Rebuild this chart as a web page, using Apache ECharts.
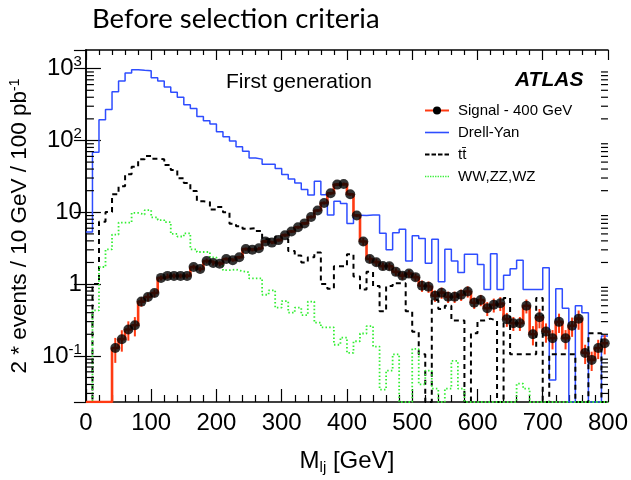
<!DOCTYPE html>
<html><head><meta charset="utf-8">
<script src="https://cdn.jsdelivr.net/npm/echarts@6/dist/echarts.min.js"></script>
<style>html,body{margin:0;padding:0;background:#fff}#c{width:631px;height:480px}</style>
</head><body><div id="c"></div><script>
// ---------- data (10 GeV bins, 0..800 GeV) ----------
const BIN_WIDTH = 10;
const X_MIN = 0, X_MAX = 800;
const Y_MIN = 0.0228, Y_MAX = 1820;

const drellYan = [5.3, 68.6, 194, 270, 477, 673, 871, 967, 950, 937,
  746, 673, 557, 468, 400, 315, 278, 215, 188, 169,
  132, 113, 98.7, 82, 70.8, 57, 55, 46.8, 46.8, 40.8,
  33.5, 29, 25.5, 20.8, 17.4, 27, 17.5, 9.2, 14.2, 13.3,
  7.0, 9.1, 9.0, 9.2, 9.2, 5.1, 3.0, 5.2, 5.8, 2.1,
  4.7, 4.3, 1.95, 4.2, 1.08, 3.05, 2.1, 1.45, 2.6, 2.6,
  1.88, 0.84, 2.65, 0.84, 1.33, 1.64, 2.15, 0.84, 0.84, 0.84,
  1.69, 0.046, 0.86, 0.46, 0, 0.50, 0.40, 0, 0, 0.19];

const ttbar = [0, 1.0, 7.4, 10.1, 17.8, 23.1, 33.9, 43, 54.7, 60.6,
  55.7, 54.7, 45.4, 38.8, 29.9, 25.6, 19.8, 14.2, 13.9, 10.9,
  11.8, 10.0, 6.9, 6.4, 5.9, 6.0, 5.5, 4.2, 4.2, 4.6,
  4.2, 2.9, 2.5, 2.0, 2.36, 2.75, 1.0, 0.86, 1.77, 1.77,
  2.6, 1.28, 0.84, 1.48, 0.94, 0.42, 0.94, 1.03, 1.03, 0.42,
  0.217, 0.105, 0, 0.6, 0.45, 0.5, 0.31, 0.31, 0, 0.206,
  0.31, 0.33, 0.31, 0, 0.64, 0.105, 0.105, 0.105, 0.105, 0.64,
  0, 0.105, 0.105, 0.105, 0.105, 0, 0, 0.206, 0.206, 0];

const diboson = [0, 0.43, 1.73, 3.05, 4.9, 7.2, 7.2, 9.8, 9.3, 10.7,
  8.5, 7.8, 7.3, 5.0, 4.6, 5.1, 3.05, 2.8, 2.8, 2.36,
  1.98, 1.56, 1.6, 1.51, 1.46, 1.2, 1.2, 0.71, 0.82, 0.47,
  0.58, 0.40, 0.47, 0.37, 0.57, 0.29, 0.25, 0.25, 0.143, 0.18,
  0.11, 0.16, 0.205, 0.26, 0.135, 0.034, 0.0625, 0.105, 0, 0,
  0.125, 0.04, 0.0625, 0.035, 0, 0.035, 0.085, 0.035, 0, 0,
  0, 0, 0, 0, 0, 0, 0.041, 0.035, 0, 0,
  0, 0, 0, 0, 0, 0, 0, 0, 0, 0];

const signal = [0, 0, 0, 0, 0.129, 0.171, 0.233, 0.267, 0.57, 0.66,
  0.75, 1.22, 1.3, 1.3, 1.3, 1.3, 1.73, 1.62, 2.1, 1.97,
  1.92, 2.24, 2.15, 2.36, 3.07, 3.0, 3.15, 3.93, 3.78, 4.1,
  4.8, 5.4, 6.2, 7.0, 8.6, 10.6, 13.5, 18.4, 24.3, 24.8,
  17.8, 9.0, 3.92, 2.24, 2.02, 1.78, 1.77, 1.48, 1.31, 1.4,
  1.25, 0.95, 0.92, 0.69, 0.76, 0.665, 0.665, 0.71, 0.79, 0.55,
  0.6, 0.46, 0.515, 0.54, 0.325, 0.285, 0.285, 0.5, 0.2, 0.346,
  0.218, 0.176, 0.298, 0.176, 0.263, 0.33, 0.11, 0.088, 0.129, 0.15];

// relative statistical uncertainty of each signal bin
const signalRelErr = [0, 0, 0, 0, 0.38, 0.33, 0.3, 0.3, 0.15, 0.13,
  0.12, 0.08, 0.08, 0.08, 0.08, 0.08, 0.08, 0.08, 0.08, 0.08,
  0.08, 0.05, 0.05, 0.05, 0.05, 0.05, 0.05, 0.05, 0.05, 0.05,
  0.05, 0.05, 0.05, 0.05, 0.05, 0.05, 0.05, 0.05, 0.05, 0.05,
  0.05, 0.05, 0.12, 0.12, 0.12, 0.12, 0.12, 0.12, 0.12, 0.12,
  0.12, 0.18, 0.18, 0.18, 0.18, 0.18, 0.18, 0.18, 0.18, 0.18,
  0.18, 0.22, 0.22, 0.22, 0.22, 0.22, 0.22, 0.22, 0.3, 0.3,
  0.3, 0.3, 0.3, 0.3, 0.3, 0.3, 0.3, 0.3, 0.3, 0.3];

const seriesNames = ['Signal - 400 GeV', 'Drell-Yan', 'tt\u0304', 'WW,ZZ,WZ'];

// ---------- styles ----------
const RED = '#ff3a12', BLUE = '#2e4dff', GREEN = '#33ee33', BLACK = '#000';
const FONT = 'Liberation Sans, Arial, sans-serif';

// step-histogram points: one point per lower bin edge + closing point
function histPoints(vals) {
  const pts = vals.map((v, i) => [i * BIN_WIDTH, v > 0 ? v : Y_MIN]);
  const last = vals[vals.length - 1];
  pts.push([vals.length * BIN_WIDTH, last > 0 ? last : Y_MIN]);
  return pts;
}
const sigPoints = [], sigErrs = [];
signal.forEach((v, i) => {
  if (v > 0) {
    const xc = i * BIN_WIDTH + BIN_WIDTH / 2;
    sigPoints.push([xc, v]);
    const e = v * signalRelErr[i];
    sigErrs.push([xc, v, Math.max(v - e, Y_MIN), v + e]);
  }
});
// minor log ticks 2..9 x 10^k inside range
const minorY = [];
for (let k = -2; k <= 3; k++) for (let m = 2; m <= 9; m++) {
  const v = m * Math.pow(10, k);
  if (v > Y_MIN && v < Y_MAX) minorY.push([X_MIN, v]);
}
let dotPath = 'path://';
for (let k = 0; k < 10; k++) dotPath += 'M' + (k * 2.5) + ',0h1.3v1.3h-1.3z';

const chart = echarts.init(document.getElementById('c'), null, {renderer: 'canvas'});
const xAxisCommon = {
  type: 'value', min: X_MIN, max: X_MAX, interval: 100,
  axisLine: {show: true, onZero: false, lineStyle: {color: BLACK, width: 1.5}},
  splitLine: {show: false}, minorSplitLine: {show: false}
};
const yLabelFmt = function (val) {
  const lg = Math.log10(val), e = Math.round(lg);
  if (Math.abs(lg - e) > 1e-6) return '';
  if (e === 0) return '{b|1}';
  if (e === 1) return '{b|10}';
  return '{b|10}{s|' + e + '}';
};
const option = {
  animation: false,
  backgroundColor: '#fff',
  grid: {left: 79, right: 22, top: 50, bottom: 68, containLabel: false},
  title: [
    {text: 'Before selection criteria', left: 92, top: 5, padding: 0,
      textStyle: {fontFamily: 'Lato', fontSize: 27.5, fontWeight: 'normal', color: BLACK}},
    {text: 'First generation', left: 226, top: 72, padding: 0,
      textStyle: {fontFamily: FONT, fontSize: 21, fontWeight: 'normal', color: BLACK}},
    {text: 'ATLAS', left: 515, top: 70, padding: 0,
      textStyle: {fontFamily: FONT, fontSize: 21, fontWeight: 'bold', fontStyle: 'italic', color: BLACK}}
  ],
  legend: {
    orient: 'vertical', left: 424, top: 103, padding: 0,
    itemWidth: 24, itemHeight: 10, itemGap: 7,
    textStyle: {fontFamily: FONT, fontSize: 15, color: BLACK, padding: [0, 0, 0, 4]},
    data: [
      {name: seriesNames[0]},
      {name: seriesNames[1], icon: 'path://M0,0h24v1.6h-24z', itemStyle: {color: BLUE}},
      {name: seriesNames[2], icon: 'path://M0,0h4.5v2h-4.5zM6.5,0h4.5v2h-4.5zM13,0h4.5v2h-4.5zM19.5,0h4.5v2h-4.5z', itemStyle: {color: BLACK}},
      {name: seriesNames[3], icon: dotPath, itemStyle: {color: GREEN}}
    ]
  },
  xAxis: [
    Object.assign({}, xAxisCommon, {
      position: 'bottom',
      axisTick: {show: true, inside: true, length: 13, lineStyle: {color: BLACK, width: 1.2}},
      minorTick: {show: true, splitNumber: 5, length: 7, lineStyle: {color: BLACK, width: 1.2}},
      axisLabel: {color: BLACK, fontFamily: FONT, fontSize: 24, margin: 9},
      name: 'M{sub|lj} [GeV]', nameLocation: 'middle', nameGap: 46,
      nameTextStyle: {color: BLACK, fontFamily: FONT, fontSize: 24,
        rich: {sub: {fontFamily: FONT, fontSize: 15, verticalAlign: 'bottom', padding: [12, 0, 0, 0]}}}
    }),
    Object.assign({}, xAxisCommon, {
      position: 'top',
      axisTick: {show: true, inside: true, length: 10, lineStyle: {color: BLACK, width: 1.2}},
      minorTick: {show: true, splitNumber: 5, length: 5, lineStyle: {color: BLACK, width: 1.2}},
      axisLabel: {show: false}
    })
  ],
  yAxis: [
    {type: 'log', logBase: 10, min: Y_MIN, max: Y_MAX, position: 'left',
      axisLine: {show: true, lineStyle: {color: BLACK, width: 1.5}},
      axisTick: {show: true, inside: true, length: 15, lineStyle: {color: BLACK, width: 1.2}},
      splitLine: {show: false},
      axisLabel: {color: BLACK, fontFamily: FONT, formatter: yLabelFmt, showMinLabel: false, showMaxLabel: false, margin: 4,
        rich: {b: {fontFamily: FONT, fontSize: 24, lineHeight: 28},
               s: {fontFamily: FONT, fontSize: 15, verticalAlign: 'top', lineHeight: 14}}},
      name: '2 * events / 10 GeV / 100 pb{s|-1}', nameLocation: 'middle', nameRotate: 90, nameGap: 52,
      nameTextStyle: {color: BLACK, fontFamily: FONT, fontSize: 22.5,
        rich: {s: {fontFamily: FONT, fontSize: 14, verticalAlign: 'top', lineHeight: 14}}}
    },
    {type: 'log', logBase: 10, min: Y_MIN, max: Y_MAX, position: 'right',
      axisLine: {show: true, lineStyle: {color: BLACK, width: 1.5}},
      axisTick: {show: true, inside: true, length: 12, lineStyle: {color: BLACK, width: 1.2}},
      splitLine: {show: false}, axisLabel: {show: false}
    }
  ],
  series: [
    {name: seriesNames[1], type: 'line', step: 'end', data: histPoints(drellYan), symbol: 'none',
      lineStyle: {color: BLUE, width: 1.5}, itemStyle: {color: BLUE}, z: 2},
    {name: seriesNames[2], type: 'line', step: 'end', data: histPoints(ttbar), symbol: 'none',
      lineStyle: {color: BLACK, width: 2, type: [5, 4]}, itemStyle: {color: BLACK}, z: 2},
    {name: seriesNames[3], type: 'line', step: 'end', data: histPoints(diboson), symbol: 'none',
      lineStyle: {color: GREEN, width: 1.8, type: [1.5, 2.2]}, itemStyle: {color: GREEN}, z: 2},
    {name: seriesNames[0], type: 'line', step: 'end', data: histPoints(signal),
      symbol: 'circle', symbolSize: 8, showSymbol: false,
      lineStyle: {color: RED, width: 2.6}, itemStyle: {color: BLACK}, z: 3},
    {name: 'sigErr', type: 'custom', data: sigErrs, encode: {x: 0, y: 1}, z: 4, silent: true,
      renderItem: function (params, api) {
        const x = api.value(0);
        const p1 = api.coord([x, api.value(2)]), p2 = api.coord([x, api.value(3)]);
        return {type: 'line', shape: {x1: p1[0], y1: p1[1], x2: p2[0], y2: p2[1]},
          style: {stroke: RED, lineWidth: 2}};
      }},
    {name: 'sigPts', type: 'scatter', data: sigPoints, symbol: 'circle', symbolSize: 10,
      itemStyle: {color: BLACK}, z: 5, silent: true},
    {name: 'yMinor', type: 'custom', data: minorY, encode: {x: 0, y: 1}, z: 6, silent: true,
      renderItem: function (params, api) {
        const v = api.value(1);
        const pl = api.coord([X_MIN, v]), pr = api.coord([X_MAX, v]);
        return {type: 'group', children: [
          {type: 'line', shape: {x1: pl[0], y1: pl[1], x2: pl[0] + 8, y2: pl[1]}, style: {stroke: BLACK, lineWidth: 1.2}},
          {type: 'line', shape: {x1: pr[0], y1: pr[1], x2: pr[0] - 7, y2: pr[1]}, style: {stroke: BLACK, lineWidth: 1.2}}
        ]};
      }}
  ]
};
chart.setOption(option);
</script></body></html>
